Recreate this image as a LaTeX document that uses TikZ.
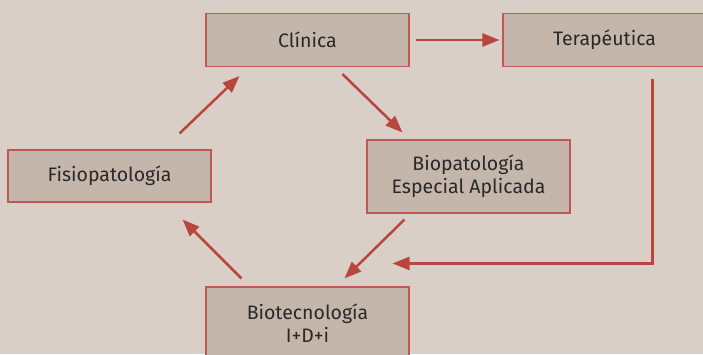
\documentclass[tikz,border=0pt]{standalone}
\usepackage{fontspec}
\setmainfont{Fira Sans}
\usetikzlibrary{positioning,arrows.meta,calc}
\definecolor{bgcol}{HTML}{D9CFC6}
\definecolor{boxcol}{HTML}{C4B6AA}
\definecolor{redcol}{HTML}{B8453F}
\definecolor{txtcol}{HTML}{2B2827}
\tikzset{
    every node/.style={
        font=\fontsize{19.5}{23}\selectfont,
        text=txtcol
    },
    link/.style={
        line width=2.5pt,
        draw=redcol,
        -{Triangle[length=17pt,width=13pt]}
    }
}
\tikzstyle{block} = [rectangle, draw=redcol!90!white, line width=1.1pt, fill=boxcol, align=center, minimum width=203pt, minimum height=53pt, inner sep=0pt]

\begin{document}
\begin{tikzpicture}[x=1pt,y=1pt]
		\fill[bgcol] (0,0) rectangle (703,354);
		\useasboundingbox (0,0) rectangle (703,354);
		\node (clin) at (307.5,314) [block] {Clínica};
		\node (terap) at (604.5,314) [block] {Terapéutica};
		\node (fisio) at (109.5,178) [block, minimum height=52pt] {Fisiopatología};
		\node (biopat) at (468.5,177.5) [block, minimum height=73pt] {Biopatología\\Especial Aplicada};
		\node (biotec) at (307.5,30.5) [block, minimum height=73pt] {Biotecnología\\I+D+i};
		% Connectors
		\draw [link, shorten <=6pt, shorten >=3pt] (clin) -- (terap);
		\draw [link] ([shift={(-32pt,16pt)}]fisio.north east) -- ([shift={(34pt,-9pt)}]clin.south west);
		\draw [link] ([shift={(137pt,-7pt)}]clin.south west) -- ([shift={(36pt,7pt)}]biopat.north west);
		\draw [link] ([shift={(38pt,-6pt)}]biopat.south west) -- ([shift={(139pt,8pt)}]biotec.north west);
		\draw [link] ([shift={(36pt,8pt)}]biotec.north west) -- ([shift={(-29pt,-17pt)}]fisio.south east);
		\draw [link] ([shift={(150pt,-12pt)}]terap.south west) |- ([shift={(-17pt,23pt)}]biotec.north east);
	\end{tikzpicture}
\end{document}
